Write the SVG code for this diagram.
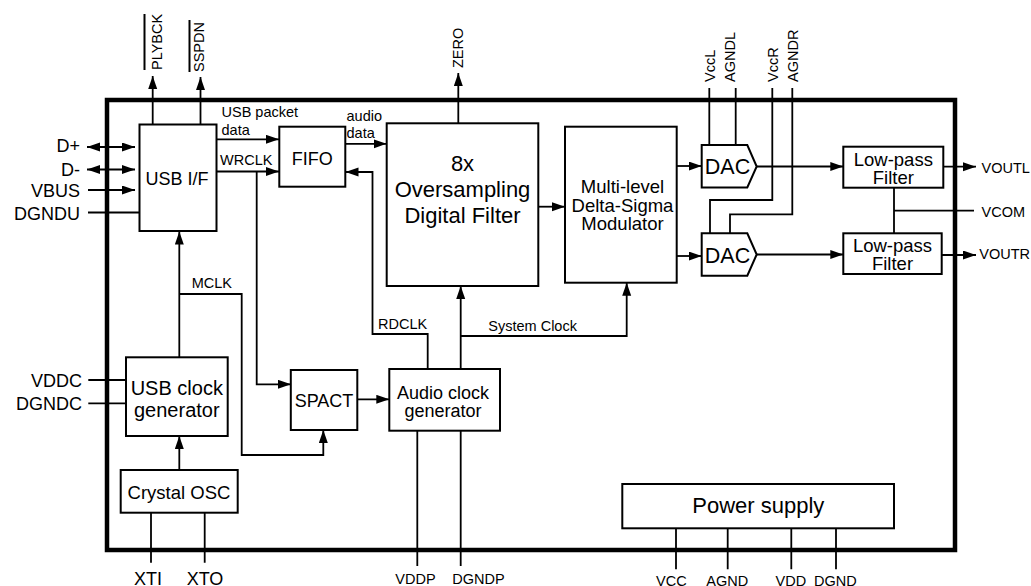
<svg xmlns="http://www.w3.org/2000/svg" width="1031" height="586" viewBox="0 0 1031 586">
<style>
text{font-family:"Liberation Sans",Arial,Helvetica,sans-serif;fill:#000}
.box{fill:#fff;stroke:#000;stroke-width:2}
.w{fill:none;stroke:#000;stroke-width:1.8}
.a{marker-end:url(#ah)}
.d{marker-start:url(#ah);marker-end:url(#ah)}
.s{font-size:14.5px}
.m{font-size:18px}
.c{text-anchor:middle}
.e{text-anchor:end}
</style>
<defs>
<marker id="ah" markerUnits="userSpaceOnUse" markerWidth="14" markerHeight="10" refX="13" refY="4.5" orient="auto-start-reverse">
<path d="M0,0 L13,4.5 L0,9 z" fill="#000"/>
</marker>
</defs>
<rect x="0" y="0" width="1031" height="586" fill="#fff"/>
<rect id="chip" x="107" y="100" width="848" height="450" fill="none" stroke="#000" stroke-width="4.5"/>

<g id="connectors">
<path class="w a" d="M152.7,125 V76"/>
<path class="w a" d="M200.5,125 V77"/>
<path class="w d" d="M87,147 H135"/>
<path class="w d" d="M87,169.5 H135"/>
<path class="w a" d="M88,190 H135"/>
<path class="w" d="M88,212.5 H139.5"/>
<path class="w a" d="M216.5,139.3 H279"/>
<path class="w a" d="M216.5,171.5 H279"/>
<path class="w a" d="M256.7,171.5 V384.3 H291"/>
<path class="w a" d="M345,143.8 H386.5"/>
<path class="w a" d="M427.7,369 V334 H372.5 V172 H345.5"/>
<path class="w a" d="M458.3,123.3 V73"/>
<path class="w a" d="M538.3,206.7 H565"/>
<path class="w a" d="M460.7,369 V286"/>
<path class="w a" d="M460.7,336 H626.7 V282.7"/>
<path class="w a" d="M676.7,166 H701.7"/>
<path class="w a" d="M676.7,256 H701.7"/>
<path class="w" d="M709.3,88 V145"/>
<path class="w" d="M735.7,88 V145"/>
<path class="w" d="M772.3,88 V200 H710 V233.3"/>
<path class="w" d="M792.3,88 V214.3 H730 V233.3"/>
<path class="w a" d="M756.7,166.5 H843.3"/>
<path class="w a" d="M756.7,254.5 H843.3"/>
<path class="w a" d="M943.3,166.7 H976"/>
<path class="w a" d="M941.7,255 H976"/>
<path class="w" d="M894,187.7 V233.3 M894,210.7 H974"/>
<path class="w a" d="M179.3,357.3 V231.5"/>
<path class="w a" d="M179.3,294 H241.7 V455 H323.3 V430"/>
<path class="w a" d="M179.3,470 V436"/>
<path class="w a" d="M357.3,399.3 H389.3"/>
<path class="w" d="M88.3,380 H126 M88.3,403.3 H126"/>
<path class="w" d="M151,512.7 V562.7 M204.7,512.7 V562.7"/>
<path class="w" d="M417.3,430.7 V566 M460.7,430.7 V566"/>
<path class="w" d="M676,528.3 V569.3 M727.7,528.3 V569.3 M791.3,528.3 V569.3 M836,528.3 V569.3"/>
</g>

<g id="usb-if">
<rect class="box" x="139.5" y="124.5" width="77" height="106.5"/>
<text class="m c" x="177" y="185">USB I/F</text>
</g>
<g id="fifo">
<rect class="box" x="279.3" y="126.7" width="66" height="60"/>
<text class="m c" x="312.3" y="164.5">FIFO</text>
</g>
<g id="oversampling">
<rect class="box" x="386.7" y="123.3" width="151.6" height="162.7"/>
<text class="c" font-size="22" x="462.5" y="170.5">8x</text>
<text class="c" font-size="22" x="462.5" y="196.7">Oversampling</text>
<text class="c" font-size="22" x="462.5" y="222.7">Digital Filter</text>
</g>
<g id="modulator">
<rect class="box" x="565" y="126.7" width="111.7" height="156"/>
<text class="c" font-size="18.5" x="622.5" y="193">Multi-level</text>
<text class="c" font-size="18.5" x="622.5" y="211.5">Delta-Sigma</text>
<text class="c" font-size="18.5" x="622.5" y="230">Modulator</text>
</g>
<g id="dac-l">
<polygon class="box" points="701.7,145 747.3,145 756.7,166.5 747.3,187.5 701.7,187.5"/>
<text class="c" font-size="21.5" x="727.5" y="174.3">DAC</text>
</g>
<g id="dac-r">
<polygon class="box" points="701.7,233.3 747.3,233.3 756.7,254.5 747.3,275.7 701.7,275.7"/>
<text class="c" font-size="21.5" x="727.5" y="262.7">DAC</text>
</g>
<g id="lpf-l">
<rect class="box" x="843.3" y="146.7" width="100" height="41"/>
<text class="c" font-size="18.5" x="893.3" y="165.5">Low-pass</text>
<text class="c" font-size="18.5" x="893.3" y="184">Filter</text>
</g>
<g id="lpf-r">
<rect class="box" x="843.3" y="233.3" width="98.4" height="40.7"/>
<text class="c" font-size="18.5" x="892.5" y="251.5">Low-pass</text>
<text class="c" font-size="18.5" x="892.5" y="270">Filter</text>
</g>
<g id="usb-clock">
<rect class="box" x="126" y="357.3" width="101.7" height="78.7"/>
<text class="c" font-size="20" x="176.8" y="395">USB clock</text>
<text class="c" font-size="20" x="176.8" y="417">generator</text>
</g>
<g id="spact">
<rect class="box" x="290.8" y="370" width="66.5" height="60"/>
<text class="m c" x="324" y="407">SPACT</text>
</g>
<g id="audio-clock">
<rect class="box" x="389.3" y="369" width="110.7" height="61.7"/>
<text class="m c" x="443" y="399">Audio clock</text>
<text class="m c" x="443" y="417">generator</text>
</g>
<g id="crystal">
<rect class="box" x="120.7" y="470" width="117" height="42.7"/>
<text class="c" font-size="18.5" x="179" y="499">Crystal OSC</text>
</g>
<g id="power">
<rect class="box" x="622.3" y="484" width="271.7" height="44.3"/>
<text class="c" font-size="22" x="758.3" y="513">Power supply</text>
</g>

<g id="labels">
<text class="s" transform="translate(161.5,70) rotate(-90)">PLYBCK</text>
<line x1="144.5" y1="14" x2="144.5" y2="70" stroke="#000" stroke-width="2"/>
<text class="s" transform="translate(203.5,72) rotate(-90)">SSPDN</text>
<line x1="189.5" y1="20" x2="189.5" y2="72" stroke="#000" stroke-width="2"/>
<text class="s" transform="translate(462.5,68) rotate(-90)">ZERO</text>
<text class="s" transform="translate(714.5,82) rotate(-90)">VccL</text>
<text class="s" transform="translate(735,82) rotate(-90)">AGNDL</text>
<text class="s" transform="translate(777.5,82) rotate(-90)">VccR</text>
<text class="s" transform="translate(798,82) rotate(-90)">AGNDR</text>

<text class="m e" x="80" y="152">D+</text>
<text class="m e" x="80" y="175.5">D-</text>
<text class="m e" x="80" y="196.5">VBUS</text>
<text class="m e" x="80" y="219.5">DGNDU</text>
<text class="m e" x="82" y="387">VDDC</text>
<text class="m e" x="82" y="410">DGNDC</text>

<text class="s" x="221.5" y="117">USB packet</text>
<text class="s" x="221.5" y="135">data</text>
<text class="s" x="220" y="165">WRCLK</text>
<text class="s" x="346.5" y="120.5">audio</text>
<text class="s" x="346.5" y="138">data</text>
<text class="s" x="191.7" y="287.5">MCLK</text>
<text class="s" x="378" y="329.3">RDCLK</text>
<text class="s" x="488.3" y="330.5">System Clock</text>

<text class="s" x="981.5" y="172.5">VOUTL</text>
<text class="s" x="981.5" y="217">VCOM</text>
<text class="s" x="979.3" y="259.3">VOUTR</text>

<text class="m c" x="148" y="585">XTI</text>
<text class="m c" x="205" y="585">XTO</text>
<text class="s c" x="415.5" y="583.5">VDDP</text>
<text class="s c" x="478.5" y="583.5">DGNDP</text>
<text class="s c" x="671.3" y="585.5">VCC</text>
<text class="s c" x="727.2" y="585.5">AGND</text>
<text class="s c" x="790.8" y="585.5">VDD</text>
<text class="s c" x="835.3" y="585.5">DGND</text>
</g>
</svg>
